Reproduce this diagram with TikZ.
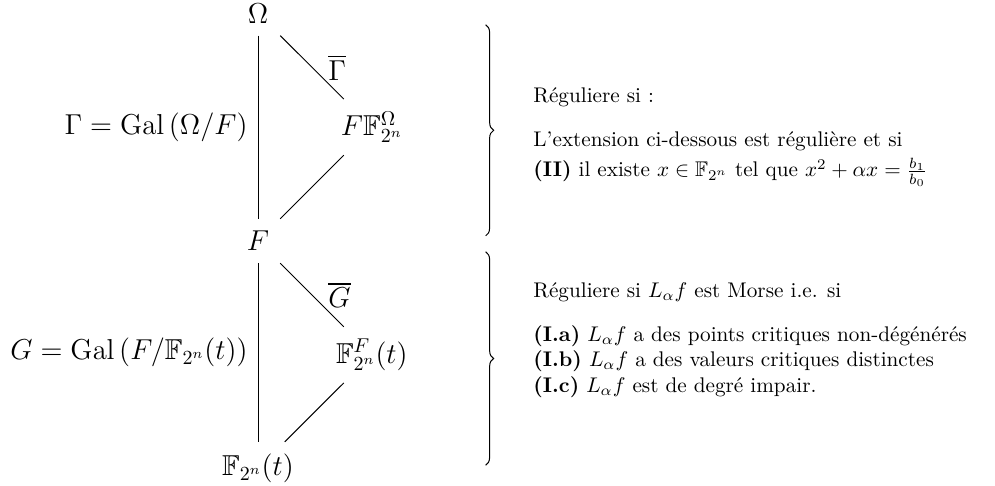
\documentclass[tikz,border=0pt]{standalone}
\usepackage{tikz}
\usepackage{amsmath,amssymb}
\usetikzlibrary{decorations.pathreplacing, positioning}
\tikzset{
  % Field node of the tower
  FN/.style={font=\Large,inner sep=6pt},
  % Galois group label, left of a vertical edge
  GL/.style={font=\Large,left,inner sep=5pt},
  % Quotient label, right of a diagonal edge
  QL/.style={font=\Large,right=8pt,inner sep=0pt},
  % Extension edge
  Ext/.style={line width=0.45pt},
  % Right brace
  Brc/.style={decorate,decoration={brace,amplitude=4pt},line width=0.5pt},
  % Criteria block (anchored on the baseline of its last line)
  CB/.style={anchor=base west,align=left,inner sep=0pt,
             transform shape,scale=1.06},
}
\begin{document}
\begin{tikzpicture}
  \useasboundingbox (-4.534,4.235) rectangle (12.951,-4.305);
  % Tower of fields
  \node[FN] at (0,4)  (om)  {$\Omega$};
  \node[FN] at (2,2)  (ff)  {$F\mathbb{F}_{2^n}^{\Omega}$};
  \node[FN] at (0,0)  (f)   {$F$};
  \node[FN] at (2,-2) (fft) {$\mathbb{F}_{2^n}^{F}(t)$};
  \node[FN] at (0,-4) (ft)  {$\mathbb{F}_{2^n}(t)$};
  % Upper extension
  \draw[Ext] (om) -- (f)
        node[GL,midway] (gam) {$\Gamma = \mathrm{Gal}\left(\Omega/F\right)$};
  \draw[Ext] (om) -- (ff)
        node[QL,midway] (gbar) {$\overline{\Gamma}$};
  \draw[Ext] (ff) -- (f);
  % Lower extension
  \draw[Ext] (f) -- (ft)
        node[GL,midway] (gg) {$G = \mathrm{Gal}\left(F/\mathbb{F}_{2^n}(t)\right)$};
  \draw[Ext] (f) -- (fft)
        node[QL,midway] (ggbar) {$\overline{G}$};
  \draw[Ext] (fft) -- (ft);
  % Braces
  \coordinate (bu1) at (4,3.8);
  \coordinate (bu2) at (4,0.09);
  \coordinate (bl1) at (4,-0.19);
  \coordinate (bl2) at (4,-3.94);
  \draw[Brc] (bu1) -- (bu2);
  \draw[Brc] (bl1) -- (bl2);
  % Regularity criteria
  \coordinate (tu) at (4.833,1.125);
  \coordinate (tl) at (4.833,-2.654);
  \node[CB] at (tu) (crU)
        {R\'eguliere si :\\[8.8pt]
         L'extension ci-dessous est r\'eguli\`ere et si\\[2.2pt]
         \textbf{(II)} il existe $x \in \mathbb{F}_{2^n}$ tel que
         $x^2 + \alpha x = \frac{b_1}{b_0}$};
  \node[CB] at (tl) (crL)
        {R\'eguliere si $L_\alpha f$ est Morse i.e. si\\[8.8pt]
         \textbf{(I.a)} $L_\alpha f$ a des points critiques non-d\'eg\'en\'er\'es\\
         \textbf{(I.b)} $L_\alpha f$ a des valeurs critiques distinctes\\
         \textbf{(I.c)} $L_\alpha f$ est de degr\'e impair.};
\end{tikzpicture}
\end{document}
